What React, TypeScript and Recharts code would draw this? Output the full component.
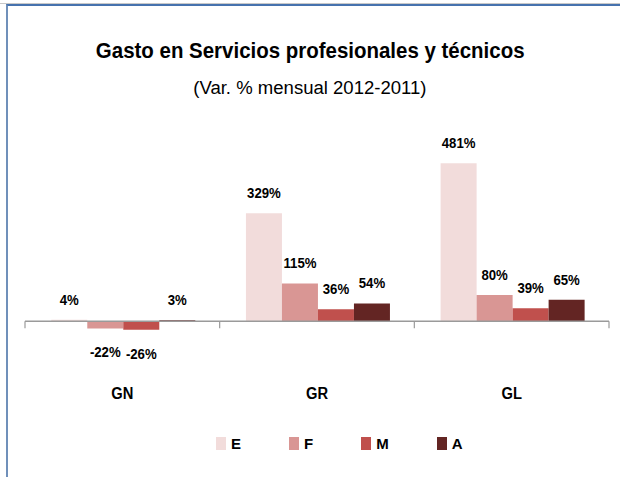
import React from 'react';
import { BarChart, Bar, XAxis, YAxis, ReferenceLine, LabelList, Legend } from 'recharts';

const categories = ['GN', 'GR', 'GL'];
const seriesNames = ['E', 'F', 'M', 'A'];
const eValues = [4, 329, 481];
const fValues = [-22, 115, 80];
const mValues = [-26, 36, 39];
const aValues = [3, 54, 65];
const seriesColors = ['#F2DCDB', '#D99694', '#C0504D', '#632523'];
const titleText = 'Gasto en Servicios profesionales y técnicos';
const subtitleText = '(Var. % mensual 2012-2011)';
const yDomain = [-100, 500];

const seriesValues = [eValues, fValues, mValues, aValues];
const data = categories.map((c, i) => {
  const row: any = { cat: c };
  seriesNames.forEach((s, j) => {
    row[s] = seriesValues[j][i];
  });
  return row;
});

const FONT = '"Liberation Sans", Arial, sans-serif';

const BarLabel = (props: any) => {
  const vb = props.viewBox || {};
  const x = props.x ?? vb.x;
  const y = props.y ?? vb.y;
  const width = props.width ?? vb.width;
  const height = props.height ?? vb.height;
  const value = props.value;
  if (value === undefined || value === null) return null;
  const cx = x + width / 2;
  const top = Math.min(y, y + height);
  const bottom = Math.max(y, y + height);
  const ty = value >= 0 ? top - 15 : bottom + 29;
  return (
    <g transform={`translate(${cx},${ty}) scale(0.88,1)`}>
      <text x={0} y={0} textAnchor="middle" fontFamily={FONT} fontWeight="bold" fontSize={15} fill="#000">
        {`${value}%`}
      </text>
    </g>
  );
};

const CatTick = (props: any) => {
  const { x, y, payload } = props;
  return (
    <g transform={`translate(${x},${y + 37}) scale(0.92,1)`}>
      <text x={0} y={0} textAnchor="middle" fontFamily={FONT} fontWeight="bold" fontSize={16} fill="#000">
        {payload.value}
      </text>
    </g>
  );
};

const ZeroAxis = (props: any) => {
  const { x1, y1, x2 } = props;
  const n = categories.length;
  const ticks = [];
  for (let i = 0; i <= n; i++) {
    const tx = x1 + ((x2 - x1) * i) / n;
    ticks.push(<line key={i} x1={tx} y1={y1} x2={tx} y2={y1 + 7} stroke="#9A9A9A" strokeWidth={1.2} />);
  }
  return (
    <g>
      <line x1={x1} y1={y1} x2={x2} y2={y1} stroke="#9A9A9A" strokeWidth={1.5} />
      {ticks}
    </g>
  );
};

const LegendContent = (props: any) => {
  const payload = [...(props.payload || [])].sort(
    (a: any, b: any) => seriesNames.indexOf(a.value) - seriesNames.indexOf(b.value)
  );
  return (
    <div style={{ display: 'flex', alignItems: 'flex-end', fontFamily: FONT, fontWeight: 'bold', fontSize: 15, color: '#000' }}>
      {payload.map((p: any, i: number) => (
        <div key={i} style={{ display: 'flex', alignItems: 'flex-end', marginRight: 48 }}>
          <div style={{ width: 10, height: 13, background: p.color, marginRight: 5, marginBottom: 2 }} />
          <span style={{ lineHeight: '16px', display: 'inline-block' }}>{p.value}</span>
        </div>
      ))}
    </div>
  );
};

export default function App() {
  return (
    <div style={{ position: 'fixed', left: 0, top: 0, width: 620, height: 477, overflow: 'hidden', background: '#fff' }}>
      <div style={{ position: 'absolute', left: 0, top: 3, width: 700, height: 1, background: '#C8C8C8' }} />
      <div
        style={{
          position: 'absolute',
          left: 6,
          top: 4,
          width: 700,
          height: 600,
          borderTop: '2px solid #4672AE',
          borderLeft: '2px solid #7090BA',
        }}
      />
      <div
        style={{
          position: 'absolute',
          left: 0,
          top: 36,
          width: 620,
          textAlign: 'center',
          fontFamily: FONT,
          fontWeight: 'bold',
          fontSize: 22,
          lineHeight: '30px',
          color: '#000',
          transform: 'scaleX(0.93)',
          transformOrigin: '313px 0',
        }}
      >
        {titleText}
      </div>
      <div
        style={{
          position: 'absolute',
          left: 0,
          top: 76,
          width: 620,
          textAlign: 'center',
          fontFamily: FONT,
          fontSize: 18,
          lineHeight: '24px',
          color: '#000',
          transform: 'scaleX(1.03)',
          transformOrigin: '314px 0',
        }}
      >
        {subtitleText}
      </div>
      <div style={{ position: 'absolute', left: 0, top: 0 }}>
        <BarChart
          width={620}
          height={477}
          data={data}
          margin={{ top: 157, right: 11, bottom: 93, left: 25 }}
          barCategoryGap="13.5%"
          barGap={0}
        >
          <YAxis hide domain={yDomain} type="number" allowDataOverflow />
          <XAxis dataKey="cat" axisLine={false} tickLine={false} height={30} tick={<CatTick />} interval={0} />
          <ReferenceLine y={0} shape={(p: any) => <ZeroAxis {...p} />} ifOverflow="extendDomain" />
          {seriesNames.map((s, j) => (
            <Bar key={s} dataKey={s} name={s} fill={seriesColors[j]} isAnimationActive={false}>
              <LabelList dataKey={s} content={<BarLabel />} />
            </Bar>
          ))}
          <Legend
            layout="horizontal"
            verticalAlign="middle"
            align="center"
            itemSorter={null as any}
            content={<LegendContent />}
            wrapperStyle={{ position: 'absolute', left: 216, top: 436, width: 'auto' }}
          />
        </BarChart>
      </div>
    </div>
  );
}
